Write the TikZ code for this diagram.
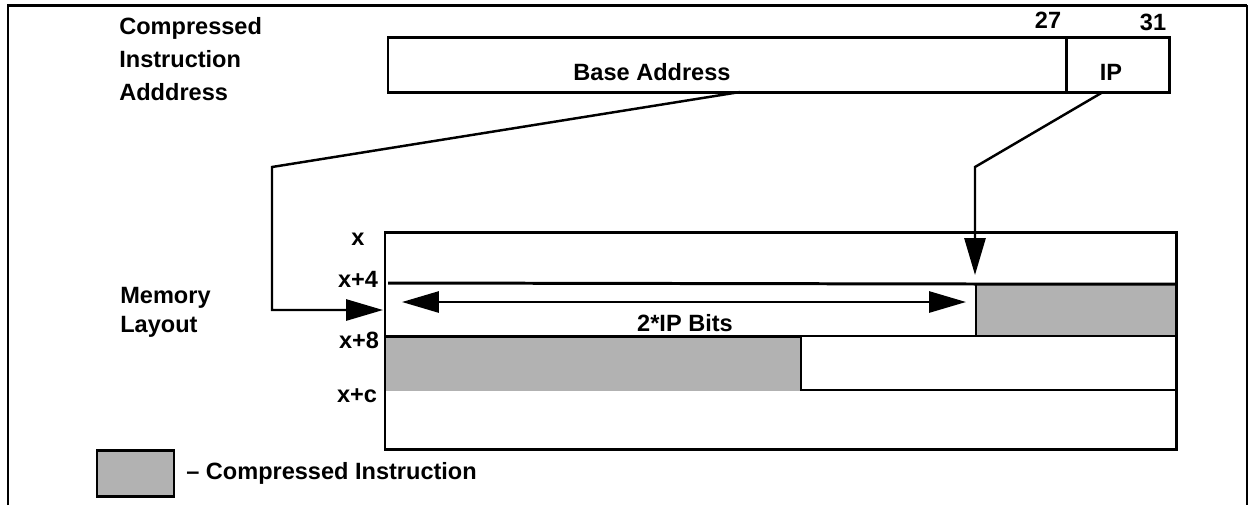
\documentclass[tikz,border=0pt]{standalone}
\usepackage{fontspec}
\setmainfont{Liberation Sans}
\usetikzlibrary{positioning, arrows.meta, calc}

\newcommand{\px}{0.02cm}

\begin{document}
\begin{tikzpicture}[
      x=0.02cm, y=-0.02cm,
      every node/.style={font=\fontsize{13.4}{16}\selectfont\bfseries},
      field/.style={
        draw,
        line width=1.7pt,
        inner sep=0pt,
        outer sep=0pt,
        anchor=north west
      },
      shade/.style={
        fill=black!30,
        inner sep=0pt,
        outer sep=0pt,
        anchor=north west
      },
      lbl/.style={inner sep=0pt, anchor=base},
      heading/.style={inner sep=0pt, anchor=base west},
      arrow/.style={
        -{Triangle[length=21pt, width=12pt]},
        line width=1.4pt
      },
      twoway/.style={
        {Triangle[length=21pt, width=12pt]}-{Triangle[length=21pt, width=12pt]},
        line width=1.4pt
      }
    ]

    \useasboundingbox (0,0) rectangle (1251,505);

    % outer frame
    \draw[line width=1.7pt] (8,505) -- (8,5) -- (1247,5);
    \draw[line width=1.2pt] (1247,5) -- (1247,505);

    % compressed instruction address
    \node[heading] (cia1) at (119,34) {Compressed};
    \node[heading] (cia2) at (119,67) {Instruction};
    \node[heading] (cia3) at (119,100) {Adddress};

    \node[field, minimum width=678*\px, minimum height=55*\px] (base) at (388,37) {};
    \node[field, minimum width=103*\px, minimum height=55*\px] (ip) at (1066,37) {};
    \node[lbl] (baselbl) at (652,80) {Base Address};
    \node[lbl] (iplbl) at (1111,80) {IP};
    \node[lbl] (bit27) at (1048,28) {27};
    \node[lbl] (bit31) at (1153,30) {31};

    % memory layout
    \node[heading] (ml1) at (120,303) {Memory};
    \node[heading] (ml2) at (120,332) {Layout};

    \node[shade, minimum width=200*\px, minimum height=52*\px] (ciA) at (976,284) {};
    \node[shade, minimum width=416*\px, minimum height=55*\px] (ciB) at (385,336) {};
    \node[field, line width=1.2pt, minimum width=375*\px, minimum height=54*\px] (rest) at (801,336) {};
    \node[field, minimum width=791*\px, minimum height=217*\px] (mem) at (385,232) {};

    \draw[line width=1.7pt] (388,283) -- (ciA.north west) -- (ciA.north east);
    \draw[line width=0.8pt] (ciA.north west) -- (ciA.south west);
    \draw[line width=1.7pt] (ciB.north west) -- (ciB.north east);

    \node[lbl] (row0) at (358,245) {x};
    \node[lbl] (row4) at (358,287) {x+4};
    \node[lbl] (row8) at (359,348) {x+8};
    \node[lbl] (rowc) at (357,402) {x+c};

    \coordinate (bitsL) at (402,302);
    \coordinate (bitsR) at (966,302);
    \draw[twoway] (bitsL) -- (bitsR);
    \node[lbl] (bits) at (685,331) {2*IP Bits};

    % connectors
    \coordinate (baseout) at (740,92);
    \coordinate (memin) at (383,310);
    \draw[arrow] (baseout) -- (272,167) |- (memin);

    \coordinate (ipout) at (1103,92);
    \coordinate (ipin) at (975,275);
    \draw[arrow] (ipout) -- (975,167) -- (ipin);

    % legend
    \node[shade, draw, line width=1.7pt, minimum width=77*\px, minimum height=46*\px] (key) at (97,450) {};
    \node[inner sep=0pt, right=0.24cm of key] (keytxt) {-- Compressed Instruction};

    \end{tikzpicture}
\end{document}
